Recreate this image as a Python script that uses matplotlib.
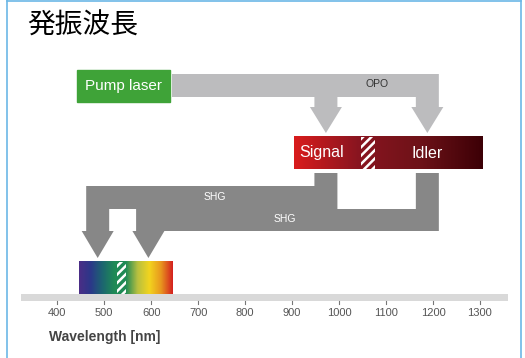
import matplotlib.pyplot as plt
import numpy as np
from matplotlib.colors import LinearSegmentedColormap
from matplotlib.patches import Rectangle, Polygon

plt.rcParams['hatch.linewidth'] = 1.8

# wavelengths in nm
ticks = [400, 500, 600, 700, 800, 900, 1000, 1100, 1200, 1300]
pump_range = (442, 640)
ir_range = (904, 1306)
ir_gap = (1046, 1076)
vis_range = (446, 645)
vis_gap = (527, 546)
signal_nm = 972
idler_nm = 1188
shg_signal = signal_nm / 2
shg_idler = idler_nm / 2

vis_colors = ['#4b2d86', '#2b3889', '#1c6670', '#1f8a55', '#1f8a55',
              '#b8c040', '#f2d41e', '#e8961e', '#d42020']
ir_colors = ['#d91c1c', '#8a1520', '#6e1218', '#3c0006']

# pixel scale of the drawing
px0, nm0, scale = 57.3, 400, 0.4696
W, H = 525, 358


def nm(px):
    return nm0 + (px - px0) / scale


fig = plt.figure(figsize=(W / 100, H / 100), dpi=100)
ax = fig.add_axes([0, 0, 1, 1])
ax.axis('off')

hw = 11.5 / scale   # arrow stem half width
hh = 16 / scale     # arrow head half width


def gradient(x0, x1, y0, y1, colors):
    cmap = LinearSegmentedColormap.from_list('g', colors)
    ax.imshow(np.linspace(0, 1, 256)[None, :], cmap=cmap, aspect='auto',
              extent=(x0, x1, y1, y0), zorder=2)


# pump laser
ax.add_patch(Rectangle((pump_range[0], 70), pump_range[1] - pump_range[0], 31.7,
                       color='#3fa338', zorder=2))
ax.text(sum(pump_range) / 2, 86, 'Pump laser', color='white', fontsize=11,
        family='Liberation Sans', ha='center', va='center', zorder=3)

# OPO arrows
x0 = nm(172)
opo = [(x0, 74), (idler_nm + hw, 74), (idler_nm + hw, 107), (idler_nm + hh, 107),
       (idler_nm, 133), (idler_nm - hh, 107), (idler_nm - hw, 107), (idler_nm - hw, 97),
       (signal_nm + hw, 97), (signal_nm + hw, 107), (signal_nm + hh, 107),
       (signal_nm, 133), (signal_nm - hh, 107), (signal_nm - hw, 107),
       (signal_nm - hw, 97), (x0, 97)]
ax.add_patch(Polygon(opo, closed=True, color='#bcbcbe', lw=0, zorder=1))
ax.text(nm(377), 84, 'OPO', fontsize=7.5, color='#333333', family='Liberation Sans',
        ha='center', va='center', zorder=3)

# signal / idler bar
gradient(ir_range[0], ir_range[1], 136.7, 169.3, ir_colors)
ax.add_patch(Rectangle((ir_gap[0], 136.7), ir_gap[1] - ir_gap[0], 32.6, fill=False,
                       hatch='////', edgecolor='white', lw=0, zorder=3))
ax.text(nm(322), 153, 'Signal', color='white', fontsize=11.5, family='Liberation Sans',
        ha='center', va='center', zorder=4)
ax.text(nm(427.5), 153, 'Idler', color='white', fontsize=11.5, family='Liberation Sans',
        ha='center', va='center', zorder=4)

# SHG arrows
hw2 = 12.3 / scale
shg = [(signal_nm - hw, 173), (signal_nm + hw, 173), (signal_nm + hw, 209),
       (idler_nm - hw, 209), (idler_nm - hw, 173), (idler_nm + hw, 173),
       (idler_nm + hw, 231), (shg_idler + hh, 231), (shg_idler, 258),
       (shg_idler - hh, 231), (shg_idler - hw2, 231), (shg_idler - hw2, 209),
       (shg_signal + hw, 209), (shg_signal + hw, 231), (shg_signal + hh, 231),
       (shg_signal, 258), (shg_signal - hh, 231), (shg_signal - hw, 231),
       (shg_signal - hw, 186), (signal_nm - hw, 186)]
ax.add_patch(Polygon(shg, closed=True, color='#878787', lw=0, zorder=1))
ax.text(nm(215), 197, 'SHG', fontsize=7.5, color='white', family='Liberation Sans',
        ha='center', va='center', zorder=3)
ax.text(nm(285), 219.5, 'SHG', fontsize=7.5, color='white', family='Liberation Sans',
        ha='center', va='center', zorder=3)

# visible spectrum
gradient(vis_range[0], vis_range[1], 261.7, 294, vis_colors)
ax.add_patch(Rectangle((vis_gap[0], 261.7), vis_gap[1] - vis_gap[0], 32.3, fill=False,
                       hatch='////', edgecolor='white', lw=0, zorder=3))

# axis bar and ticks
ax.add_patch(Rectangle((nm(21), 294), nm(508) - nm(21), 6.7, color='#d9d9d9', lw=0, zorder=2))
for t in ticks:
    ax.plot([t, t], [300.7, 304], color='#777777', lw=0.8, zorder=2)
    ax.text(t, 313.5, str(t), fontsize=8, color='#555555', family='Liberation Sans',
            ha='center', va='center')
ax.text(nm(49), 337, 'Wavelength [nm]', fontsize=10, fontweight='bold', color='#444444',
        family='Liberation Sans', ha='left', va='center')

# title
ax.text(nm(27), 26, '発振波長', fontsize=20, color='black',
        family=['Noto Sans CJK JP', 'DejaVu Sans'], ha='left', va='center')

ax.set_xlim(nm(0), nm(W))
ax.set_ylim(H, 0)

# frame
ax.plot([nm(7), nm(7)], [0, H], color='#6cb8e6', lw=1.2, zorder=5)
ax.plot([nm(520.5), nm(520.5)], [0, H], color='#6cb8e6', lw=1.2, zorder=5)
ax.plot([nm(7), nm(520.5)], [0.5, 0.5], color='#6cb8e6', lw=1.2, zorder=5)

fig.savefig('out.png', dpi=100)
